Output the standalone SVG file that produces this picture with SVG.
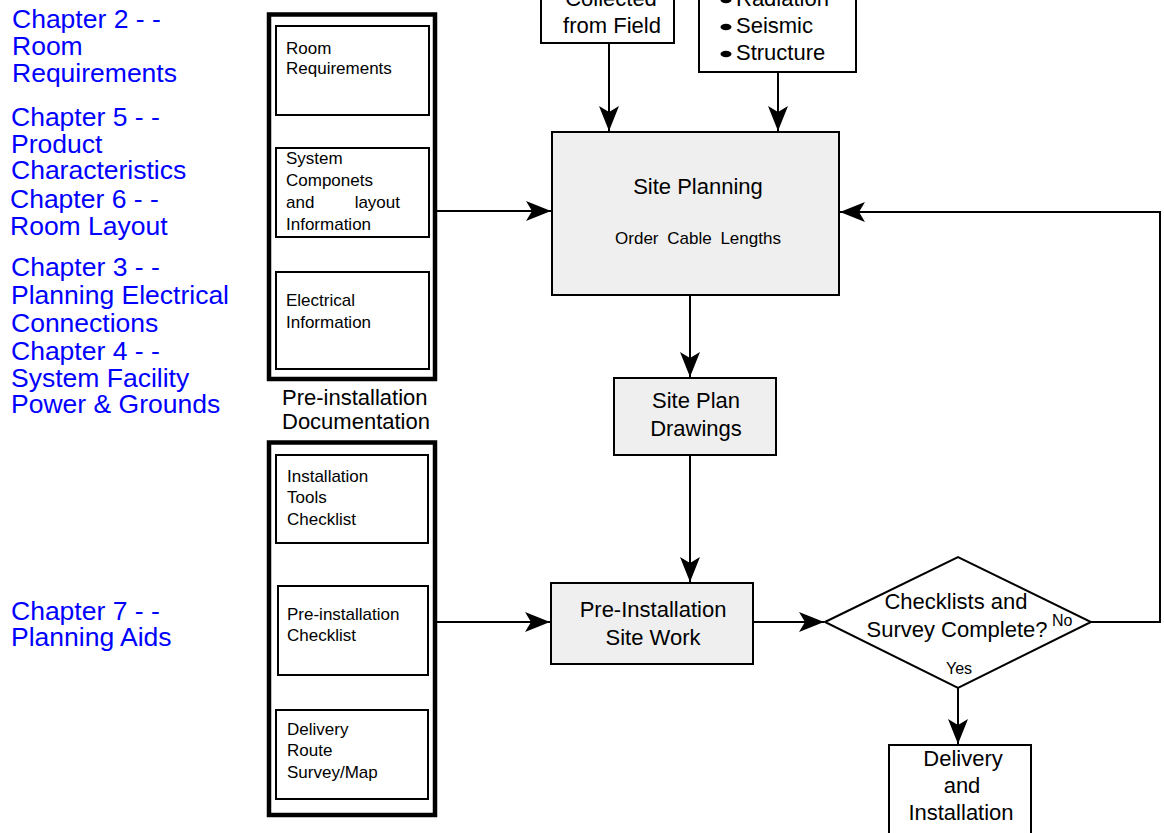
<svg xmlns="http://www.w3.org/2000/svg" width="1164" height="833" viewBox="0 0 1164 833">
<style>
text{font-family:"Liberation Sans",Arial,sans-serif;fill:#000}
.ch{font-size:26.5px;fill:#0000ff}
.in{font-size:17px}
.md{font-size:22px}
.sm{font-size:16px}
.c{text-anchor:middle}
.outer{fill:#fff;stroke:#000;stroke-width:4.5}
.box{fill:#fff;stroke:#000;stroke-width:2}
.proc{fill:#efefef;stroke:#000;stroke-width:2}
.ln{fill:none;stroke:#000;stroke-width:2}
</style>
<defs>
<marker id="ah" viewBox="-26 -11 27 22" refX="0" refY="0" markerWidth="27" markerHeight="22" markerUnits="userSpaceOnUse" orient="auto">
<path d="M0,0 L-25,-10 L-19,0 L-25,10 Z" fill="#000"/>
</marker>
</defs>
<rect width="1164" height="833" fill="#fff"/>

<g id="chapters">
<text class="ch" x="12" y="28">Chapter 2 - -</text>
<text class="ch" x="12" y="55">Room</text>
<text class="ch" x="12" y="82">Requirements</text>
<text class="ch" x="11" y="126">Chapter 5 - -</text>
<text class="ch" x="11" y="153">Product</text>
<text class="ch" x="11" y="179">Characteristics</text>
<text class="ch" x="10" y="208">Chapter 6 - -</text>
<text class="ch" x="10" y="235">Room Layout</text>
<text class="ch" x="11" y="276">Chapter 3 - -</text>
<text class="ch" x="11" y="304">Planning Electrical</text>
<text class="ch" x="11" y="332">Connections</text>
<text class="ch" x="11" y="360">Chapter 4 - -</text>
<text class="ch" x="11" y="387">System Facility</text>
<text class="ch" x="11" y="413">Power &amp; Grounds</text>
<text class="ch" x="11" y="620">Chapter 7 - -</text>
<text class="ch" x="11" y="646">Planning Aids</text>
</g>

<g id="docs-top">
<rect class="outer" x="269" y="14.5" width="166" height="364.5"/>
<g id="room-req">
<rect class="box" x="276" y="26" width="153" height="89"/>
<text class="in" x="286" y="54">Room</text>
<text class="in" x="286" y="74">Requirements</text>
</g>
<g id="sys-comp">
<rect class="box" x="276" y="148" width="153" height="89"/>
<text class="in" x="286" y="164">System</text>
<text class="in" x="286" y="186">Componets</text>
<text class="in" x="286" y="208">and</text>
<text class="in" x="400" y="208" text-anchor="end">layout</text>
<text class="in" x="286" y="230">Information</text>
</g>
<g id="elec">
<rect class="box" x="276" y="272" width="153" height="97"/>
<text class="in" x="286" y="306">Electrical</text>
<text class="in" x="286" y="328">Information</text>
</g>
</g>

<g id="doc-label">
<text class="md" x="282" y="405">Pre-installation</text>
<text class="md" x="282" y="429">Documentation</text>
</g>

<g id="docs-bottom">
<rect class="outer" x="269" y="442.5" width="166" height="372.5"/>
<g id="tools">
<rect class="box" x="276" y="455" width="152" height="88"/>
<text class="in" x="287" y="482">Installation</text>
<text class="in" x="287" y="503">Tools</text>
<text class="in" x="287" y="525">Checklist</text>
</g>
<g id="pre-check">
<rect class="box" x="278" y="586" width="150" height="89"/>
<text class="in" x="287" y="620">Pre-installation</text>
<text class="in" x="287" y="641">Checklist</text>
</g>
<g id="route">
<rect class="box" x="276" y="710" width="152" height="89"/>
<text class="in" x="287" y="735">Delivery</text>
<text class="in" x="287" y="756">Route</text>
<text class="in" x="287" y="778">Survey/Map</text>
</g>
</g>

<g id="collected">
<rect class="box" x="541" y="-40" width="133" height="83"/>
<text class="md c" x="611" y="6">Collected</text>
<text class="md c" x="612" y="33">from Field</text>
</g>

<g id="hazards">
<rect class="box" x="699" y="-60" width="157" height="132"/>
<ellipse cx="726" cy="0" rx="5.5" ry="3.2"/>
<ellipse cx="726" cy="27" rx="5.5" ry="3.2"/>
<ellipse cx="726" cy="54" rx="5.5" ry="3.2"/>
<text class="md" x="736" y="6">Radiation</text>
<text class="md" x="736" y="33">Seismic</text>
<text class="md" x="736" y="60">Structure</text>
</g>

<g id="site-planning">
<rect class="proc" x="552" y="132" width="287" height="163"/>
<text class="md c" x="698" y="194">Site Planning</text>
<text class="in c" x="698" y="244" word-spacing="4">Order Cable Lengths</text>
</g>

<g id="site-plan-drawings">
<rect class="proc" x="614" y="378" width="162" height="77"/>
<text class="md c" x="696" y="408">Site Plan</text>
<text class="md c" x="696" y="436">Drawings</text>
</g>

<g id="pre-install-work">
<rect class="proc" x="551" y="583" width="202" height="81"/>
<text class="md c" x="653" y="617">Pre-Installation</text>
<text class="md c" x="653" y="645">Site Work</text>
</g>

<g id="decision">
<polygon class="box" points="825,622 958,557 1091,622 958,688"/>
<text class="md c" x="956" y="609">Checklists and</text>
<text class="md c" x="957" y="637">Survey Complete?</text>
</g>

<g id="delivery">
<rect class="box" x="889" y="745" width="142" height="100"/>
<text class="md c" x="963" y="766">Delivery</text>
<text class="md c" x="962" y="793">and</text>
<text class="md c" x="961" y="820">Installation</text>
</g>

<g id="connectors">
<line class="ln" x1="609" y1="43" x2="609" y2="131" marker-end="url(#ah)"/>
<line class="ln" x1="778" y1="72" x2="778" y2="131" marker-end="url(#ah)"/>
<line class="ln" x1="437" y1="211" x2="551" y2="211" marker-end="url(#ah)"/>
<polyline class="ln" points="1091,622 1160,622 1160,212 840,212" marker-end="url(#ah)"/>
<line class="ln" x1="690" y1="295" x2="690" y2="377" marker-end="url(#ah)"/>
<line class="ln" x1="690" y1="455" x2="690" y2="582" marker-end="url(#ah)"/>
<line class="ln" x1="437" y1="622" x2="550" y2="622" marker-end="url(#ah)"/>
<line class="ln" x1="753" y1="622" x2="824" y2="622" marker-end="url(#ah)"/>
<line class="ln" x1="958" y1="688" x2="958" y2="744" marker-end="url(#ah)"/>
<text class="sm" x="1052" y="626">No</text>
<text class="sm" x="946" y="674">Yes</text>
</g>
</svg>
